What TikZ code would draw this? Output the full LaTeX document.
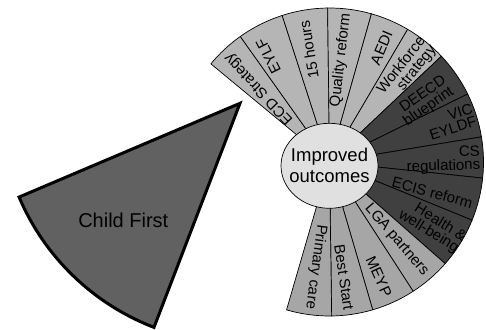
\documentclass[tikz,border=0pt]{standalone}
\usepackage{fontspec}
\setmainfont{Liberation Sans}
\definecolor{lightsec}{gray}{0.71}
\definecolor{lowsec}{gray}{0.65}
\definecolor{darksec}{gray}{0.25}
\definecolor{childfill}{gray}{0.38}
\definecolor{hubfill}{gray}{0.88}
\tikzset{
  sector/.style={draw=black, line width=0.7pt, line join=round},
  lab/.style={inner sep=0pt, align=right, font=\fontsize{15}{13.5}\selectfont},
}
\begin{document}
\begin{tikzpicture}[x=1pt,y=1pt]
\useasboundingbox (0,0) rectangle (486,329);
\coordinate (O) at (329.5,167);
\coordinate (A) at (240,225.7);
% Child First wedge
\draw[line width=3pt, line join=miter, fill=childfill]
  (A) -- ([shift={(203:240pt)}]A) arc[start angle=203, end angle=249, radius=240pt] -- cycle;
\node[font=\fontsize{20}{24}\selectfont] (cf) at (123.3,108.3) {Child First};
% ring sectors
\foreach \a/\b/\c in {140.4/125.4/lightsec, 125.4/107.9/lightsec, 107.9/90.7/lightsec,
  90.7/74.2/lightsec, 74.2/59.5/lightsec, 59.5/43.4/lightsec,
  43.4/26.2/darksec, 26.2/9.4/darksec, 9.4/-6.0/darksec, -6.0/-22.2/darksec, -22.2/-41.3/darksec,
  -41.3/-57.1/lowsec, -57.1/-73.7/lowsec, -73.7/-89.2/lowsec, -89.2/-106.2/lowsec}
  \draw[sector, fill=\c] (O) -- ([shift={(\a:154pt)}]O) arc[start angle=\a, end angle=\b, radius=154pt] -- cycle;
% hub
\coordinate (C) at (329.5,163.2);
\draw[line width=0.7pt, fill=hubfill] (C) ellipse [x radius=48.5pt, y radius=42.5pt];
\node[align=center, font=\fontsize{18.5}{21}\selectfont] (hub) at (C) {Improved\\outcomes};
% labels
\node[lab, rotate=134] (l1) at ([shift={(134:101.5pt)}]O) {ECD Strategy};
\node[lab, rotate=116.7] (l2) at ([shift={(120:122.5pt)}]O) {EYLF};
\node[lab, rotate=99.3] (l3) at ([shift={(100.4:113.9pt)}]O) {15 hours};
\node[lab, rotate=83.5] (l4) at ([shift={(83.6:102.6pt)}]O) {Quality reform};
\node[lab, rotate=66.9] (l5) at ([shift={(65.5:125.3pt)}]O) {AEDI};
\node[lab, rotate=51.5] (l6) at ([shift={(50:120.5pt)}]O) {Workforce\\strategy};
\node[lab, rotate=34.8] (l7) at ([shift={(32.3:113pt)}]O) {DEECD\\blueprint};
\node[lab, rotate=17.8] (l8) at ([shift={(18.3:128pt)}]O) {VIC\\EYLDF};
\node[lab, rotate=1.7] (l9) at ([shift={(1:113.8pt)}]O) {CS\\regulations};
\node[lab, rotate=-15] (l10) at ([shift={(-16.5:107.4pt)}]O) {ECIS reform};
\node[lab, rotate=-31.8] (l11) at ([shift={(-31.9:121pt)}]O) {Health \&\\well-being};
\node[lab, rotate=-49.2] (l12) at ([shift={(-49.3:103pt)}]O) {LGA partners};
\node[lab, rotate=-65.4] (l13) at ([shift={(-66.7:124.9pt)}]O) {MEYP};
\node[lab, rotate=-81.5] (l14) at ([shift={(-82.8:116.2pt)}]O) {Best Start};
\node[lab, rotate=-97.7] (l15) at ([shift={(-97.5:105.6pt)}]O) {Primary care};
\end{tikzpicture}
\end{document}
